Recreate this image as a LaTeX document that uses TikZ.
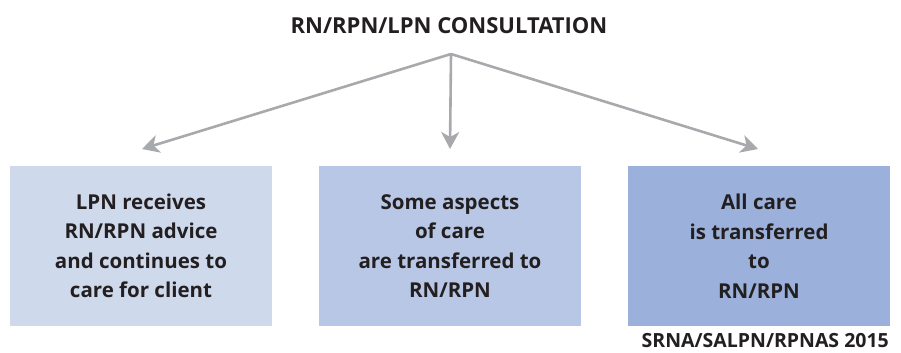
\documentclass[tikz,border=0pt]{standalone}
\usepackage{fontspec}
\setmainfont{Open Sans}
\usetikzlibrary{arrows.meta}
\definecolor{txt}{HTML}{231F20}
\definecolor{arr}{HTML}{A7A9AC}
\definecolor{boxa}{HTML}{CFD9EC}
\definecolor{boxb}{HTML}{B8C7E5}
\definecolor{boxc}{HTML}{9BB1DB}
\tikzset{
  cbox/.style={minimum width=262bp, minimum height=160bp, inner sep=0pt, align=center,
    font=\fontsize{20.5bp}{29.5bp}\selectfont\bfseries, text=txt},
  conn/.style={draw=arr, line width=2.6bp, -{Stealth[length=17bp,width=18bp,inset=5bp]}},
}
\begin{document}
\begin{tikzpicture}[x=1bp,y=-1bp]
\useasboundingbox (0,0) rectangle (901,352);
\node[font=\fontsize{22bp}{24bp}\selectfont\bfseries, text=txt] (title) at (449,26) {RN/RPN/LPN CONSULTATION};
\coordinate (apex) at (451,54);
\node[cbox, fill=boxa] (b1) at (141,246) {LPN receives\\RN/RPN advice\\and continues to\\care for client};
\node[cbox, fill=boxb] (b2) at (450,246) {Some aspects\\of care\\are transferred to\\RN/RPN};
\node[cbox, fill=boxc] (b3) at (759,246) {All care\\is transferred\\to\\RN/RPN};
\coordinate (t1) at (142,149);
\coordinate (t2) at (450,149);
\coordinate (t3) at (758,149);
\draw[conn] (apex) -- (t1);
\draw[conn] (apex) -- (t2);
\draw[conn] (apex) -- (t3);
\node[anchor=base east, inner sep=0pt, font=\fontsize{19.5bp}{22bp}\selectfont\bfseries, text=txt] (credit) at (889,347) {SRNA/SALPN/RPNAS 2015};
\end{tikzpicture}
\end{document}
